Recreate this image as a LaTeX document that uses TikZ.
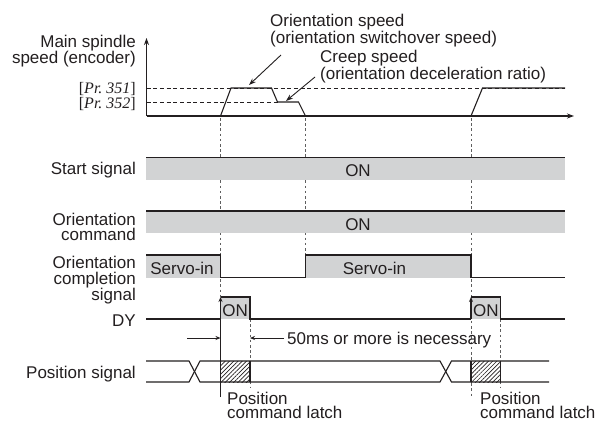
\documentclass[tikz,border=0pt]{standalone}
\usepackage{fontspec}
\setmainfont{Liberation Sans}
\newfontfamily\seriff{Liberation Serif}
\usetikzlibrary{arrows.meta,patterns.meta}
\definecolor{band}{RGB}{210,211,212}
\definecolor{ink}{RGB}{35,31,32}
\definecolor{dashc}{RGB}{95,95,95}
\tikzset{
  txt/.style={font=\fontsize{17}{16}\selectfont, text=ink, inner sep=0pt},
  lbl/.style={txt, anchor=base east, align=right},
  lblw/.style={txt, anchor=base west, align=left},
  sig/.style={draw=ink, line width=1.1pt},
  vdash/.style={draw=dashc, dash pattern=on 2.6pt off 2.6pt, line width=0.9pt},
  hdash/.style={draw=ink, dash pattern=on 4pt off 2.7pt, line width=0.8pt},
  bigtip/.style={-{Stealth[length=7pt,width=5pt]}},
  smalltip/.style={-{Stealth[length=5pt,width=4pt]}},
  bandfill/.style={fill=band},
  hatch/.style={pattern={Lines[angle=45,distance=3pt,line width=0.7pt]}, pattern color=ink},
  prtxt/.style={txt, anchor=base east, font=\fontsize{16}{16}\selectfont\seriff}
}
\begin{document}
\begin{tikzpicture}[x=1pt,y=-1pt]
\fill[white] (0,0) rectangle (597,421);
\path[use as bounding box] (0,0) rectangle (597,421);

% ---------- key coordinates ----------
\coordinate (O) at (146.5,116);
\coordinate (Ytop) at (146.5,38);
\coordinate (Xend) at (574,116);

% ---------- reference speed lines ----------
\draw[hdash] (146.5,88) -- (565,88);
\draw[hdash] (146.5,102) -- (277.5,102);

% ---------- axes ----------
\draw[sig, bigtip] (O) -- (Ytop);
\draw[sig, bigtip] (O) -- (Xend);

% ---------- speed profile ----------
\coordinate (r1a) at (220.5,116);
\coordinate (r1b) at (231,88);
\coordinate (f1a) at (271.5,88);
\coordinate (f1b) at (277.5,102);
\coordinate (c1a) at (298.5,102);
\coordinate (c1b) at (305.5,116);
\draw[sig] (r1a) -- (r1b) -- (f1a) -- (f1b) -- (c1a) -- (c1b);
\coordinate (r2a) at (471,116);
\coordinate (r2b) at (482.5,88);
\coordinate (r2c) at (565,88);
\draw[sig] (r2a) -- (r2b) -- (r2c);

% ---------- vertical dashed timing lines ----------
\draw[vdash] (220.5,118) -- (220.5,297);
\draw[vdash] (305.5,118) -- (305.5,255);
\draw[vdash] (471,118) -- (471,396);
\draw[vdash] (250,319) -- (250,387);
\draw[vdash] (500.7,319) -- (500.7,387);

% ---------- start signal ----------
\fill[bandfill] (146,157.5) rectangle (565,179.5);
\draw[sig] (146,157.5) -- (565,157.5);
% ---------- orientation command ----------
\fill[bandfill] (146,211) rectangle (565,233);
\draw[sig] (146,211) -- (565,211);

% ---------- orientation completion signal ----------
\fill[bandfill] (146,255) rectangle (220.5,277.5);
\fill[bandfill] (305.5,255) rectangle (471,277.5);
\draw[sig] (146,255) -- (220.5,255) -- (220.5,277.5) -- (305.5,277.5) -- (305.5,255) -- (471,255) -- (471,277.5) -- (565,277.5);

% ---------- DY ----------
\fill[bandfill] (220.5,297) rectangle (250,319);
\fill[bandfill] (471,297) rectangle (500.7,319);
\draw[sig] (146,319) -- (220.5,319);
\draw[sig] (220.5,297) -- (250,297) -- (250,319) -- (471,319);
\draw[sig] (471,297) -- (500.7,297) -- (500.7,319) -- (565,319);
\draw[sig, smalltip] (220.5,397) -- (220.5,297);
\draw[sig, smalltip] (471,319) -- (471,297);

% ---------- position signal ----------
\fill[hatch] (220.5,361) rectangle (250,382);
\fill[hatch] (471,361) rectangle (500.7,382);
\draw[sig] (250,361) -- (250,382);
\draw[sig] (500.7,361) -- (500.7,382);
\draw[sig] (471,361) -- (471,382);
\draw[sig] (146,361) -- (189,361) -- (200,382) -- (440,382) -- (451.5,361) -- (549,361);
\draw[sig] (146,382) -- (189,382) -- (200,361) -- (440,361) -- (451.5,382) -- (549,382);

% ---------- 50 ms dimension ----------
\coordinate (m1) at (187,338);
\coordinate (m2) at (220.5,338);
\coordinate (m3) at (284,338);
\coordinate (m4) at (250,338);
\draw[sig, line width=0.9pt, smalltip] (m1) -- (m2);
\draw[sig, line width=0.9pt, smalltip] (m3) -- (m4);
\node[lblw] (ms) at (287,344) {50ms or more is necessary};

% ---------- left labels (base = last line) ----------
\node[lbl] (lspeed) at (136,63) {Main spindle\\speed (encoder)};
\node[prtxt] (p351) at (136,93.5) {[\textit{Pr.\ 351}]};
\node[prtxt] (p352) at (136,108.5) {[\textit{Pr.\ 352}]};
\node[lbl] (lstart) at (136,174) {Start signal};
\node[lbl, font=\fontsize{17}{15}\selectfont] (lcmd) at (136,240) {Orientation\\command};
\node[lbl] (lcomp) at (136,300.5) {Orientation\\completion\\signal};
\node[lbl] (ldy) at (136,326.5) {DY};
\node[lbl] (lpos) at (136,378) {Position signal};

% ---------- in-band texts ----------
\node[txt, anchor=base] (on1) at (358,176.5) {ON};
\node[txt, anchor=base] (on2) at (358,230) {ON};
\node[txt, anchor=base] (sv1) at (182,274) {Servo-in};
\node[txt, anchor=base] (sv2) at (374.5,274) {Servo-in};
\node[txt, anchor=base] (dy1) at (235.2,316.5) {ON};
\node[txt, anchor=base] (dy2) at (485.9,316.5) {ON};

% ---------- annotations ----------
\node[lblw, font=\fontsize{17}{14}\selectfont] (aos) at (270,43) {Orientation speed\\(orientation switchover speed)};
\node[lblw, font=\fontsize{17}{14}\selectfont] (acs) at (320,79) {Creep speed\\(orientation deceleration ratio)};
\coordinate (aosS) at (281,55);
\coordinate (aosE) at (249,85);
\coordinate (acsS) at (315,77);
\coordinate (acsE) at (286,101);
\draw[sig, line width=0.9pt, bigtip] (aosS) -- (aosE);
\draw[sig, line width=0.9pt, bigtip] (acsS) -- (acsE);

\node[lblw, font=\fontsize{17}{13.5}\selectfont] (pcl1) at (227,418) {Position\\command latch};
\node[lblw, font=\fontsize{17}{13.5}\selectfont] (pcl2) at (480,418) {Position\\command latch};
\end{tikzpicture}
\end{document}
